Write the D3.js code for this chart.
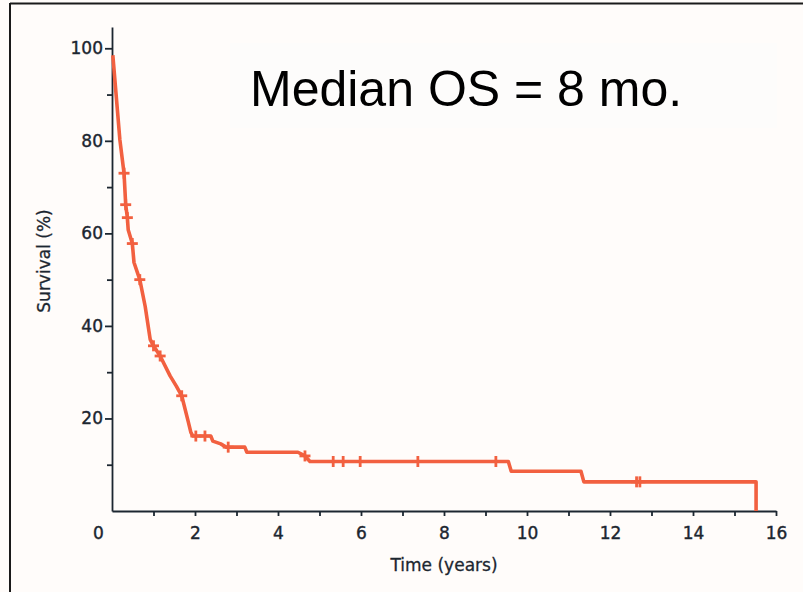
<!DOCTYPE html>
<html>
<head>
<meta charset="utf-8">
<script src="https://cdn.jsdelivr.net/npm/d3@7/dist/d3.min.js"></script>
<style>
    body { margin: 0; background: #fffcfa; }
    svg { display: block; }
</style>
</head>
<body>
<div id="km_chart"></div>
<script>

// ----- data ----- //

// Kaplan-Meier curve vertices (years, survival %)
var km_time = [0.02, 0.19, 0.29, 0.33, 0.37, 0.39, 0.49, 0.53, 0.67, 0.80, 0.92, 1.00, 1.16, 1.40, 1.55, 1.68, 1.84, 1.90, 1.95, 2.38, 2.43, 2.62, 2.75, 3.20, 3.25, 4.48, 4.65, 4.77, 9.55, 9.62, 11.30, 11.37, 15.52, 15.52]
var km_surv = [98.5, 80.2, 73.0, 66.2, 63.4, 60.8, 57.8, 53.7, 50.0, 44.2, 37.1, 35.7, 33.5, 29.2, 27.0, 24.9, 19.2, 17.0, 16.2, 16.2, 15.1, 14.5, 13.8, 13.8, 12.7, 12.7, 11.9, 10.7, 10.7, 8.6, 8.6, 6.3, 6.3, 0]

// censored patients (+ marks)
var censor_time = [0.29, 0.33, 0.37, 0.49, 0.67, 1.00, 1.16, 1.68, 2.02, 2.24, 2.80, 4.65, 5.33, 5.57, 5.98, 7.37, 9.25, 12.64, 12.72]
var censor_surv = [73.0, 66.2, 63.4, 57.8, 50.0, 35.7, 33.5, 24.9, 16.2, 16.2, 13.8, 11.9, 10.7, 10.7, 10.7, 10.7, 10.7, 6.3, 6.3]

var y_ticks_major = [20, 40, 60, 80, 100]
var y_ticks_minor = [10, 30, 50, 70, 90]
var x_ticks = d3.range(0, 17)
var x_title = "Time (years)"
var y_title = "Survival (%)"
var title_text = "Median OS = 8 mo."


// ----- svg, scales and axes ----- //

var svg = d3.select("#km_chart")
    .append("svg")
    .attr("width", 803)
    .attr("height", 592)

svg.append("rect")
    .attr("width", 803)
    .attr("height", 592)
    .attr("fill", "#fffcfa")

// frame lines (top and left)
svg.append("line")
    .attr("x1", 10).attr("x2", 803)
    .attr("y1", 3.5).attr("y2", 3.5)
    .attr("stroke", "#1a1a1a")
    .attr("stroke-width", 2)

svg.append("line")
    .attr("x1", 10).attr("x2", 10)
    .attr("y1", 3).attr("y2", 592)
    .attr("stroke", "#1a1a1a")
    .attr("stroke-width", 2)

var x = d3.scaleLinear()
    .domain([0, 16])
    .range([112, 776])

var y = d3.scaleLinear()
    .domain([0, 104.6])
    .range([511, 27])

var axisFont = "'DejaVu Sans', Arial, sans-serif"
var axisColor = "#1c2630"

// y axis: minor ticks first, then major ticks with labels
var yMinor = svg.append("g")
    .attr("transform", "translate(" + x(0) + ",0)")
    .call(d3.axisLeft(y).tickValues(y_ticks_minor).tickSize(5).tickFormat(""))
yMinor.select(".domain").remove()

var yAxis = svg.append("g")
    .attr("transform", "translate(" + x(0) + ",0)")
    .call(d3.axisLeft(y).tickValues(y_ticks_major).tickSize(7).tickPadding(2).tickSizeOuter(0))

// x axis
var xAxis = svg.append("g")
    .attr("transform", "translate(0," + y(0) + ")")
    .call(d3.axisBottom(x)
        .tickValues(x_ticks)
        .tickSize(5)
        .tickPadding(11)
        .tickSizeOuter(0)
        .tickFormat(function (d) { return d % 2 === 0 ? d : ""; }))

// the "0" label sits left of the corner, no tick there
xAxis.selectAll(".tick")
    .filter(function (d) { return d === 0; })
    .each(function () {
        d3.select(this).select("line").remove()
        d3.select(this).select("text").attr("x", -14)
    })

svg.selectAll(".domain, .tick line")
    .attr("stroke", axisColor)
    .attr("stroke-width", 1.8)

svg.selectAll(".tick text")
    .attr("fill", axisColor)
    .attr("stroke", axisColor)
    .attr("stroke-width", 0.4)
    .style("font-family", axisFont)
    .style("font-size", "17px")

// axis titles
svg.append("text")
    .attr("x", x(8))
    .attr("y", 571)
    .attr("text-anchor", "middle")
    .style("font-family", axisFont)
    .style("font-size", "17px")
    .attr("fill", axisColor)
    .attr("stroke", axisColor)
    .attr("stroke-width", 0.3)
    .text(x_title)

svg.append("text")
    .attr("transform", "translate(50," + 261 + ") rotate(-90)")
    .attr("text-anchor", "middle")
    .style("font-family", axisFont)
    .style("font-size", "17px")
    .attr("fill", axisColor)
    .attr("stroke", axisColor)
    .attr("stroke-width", 0.3)
    .text(y_title)


// ----- title box ----- //

svg.append("rect")
    .attr("x", 230)
    .attr("y", 43)
    .attr("width", 547)
    .attr("height", 85)
    .attr("fill", "#fdfcfb")

svg.append("text")
    .attr("x", 250)
    .attr("y", 106)
    .style("font-family", "'Liberation Sans', Arial, Helvetica, sans-serif")
    .style("font-size", "50px")
    .attr("fill", "#000")
    .text(title_text)


// ----- survival curve ----- //

var curveColor = "#f2603f"

var defs = svg.append("defs")
defs.append("filter")
    .attr("id", "soft")
    .append("feGaussianBlur")
    .attr("stdDeviation", 0.6)

var km_points = km_time.map(function (t, i) { return { t: t, s: km_surv[i] }; })

var line = d3.line()
    .x(function (d) { return x(d.t); })
    .y(function (d) { return y(d.s); })

svg.append("path")
    .datum(km_points)
    .attr("fill", "none")
    .attr("stroke", curveColor)
    .attr("stroke-width", 3.6)
    .attr("stroke-linejoin", "round")
    .attr("filter", "url(#soft)")
    .attr("d", line)

var censor_points = censor_time.map(function (t, i) { return { t: t, s: censor_surv[i] }; })

var marks = svg.selectAll(".censor")
    .data(censor_points)
    .enter()
    .append("g")
    .attr("class", "censor")
    .attr("filter", "url(#soft)")
    .attr("transform", function (d) { return "translate(" + x(d.t) + "," + y(d.s) + ")"; })

marks.append("line")
    .attr("x1", -5.5).attr("x2", 5.5)
    .attr("stroke", curveColor)
    .attr("stroke-width", 2.8)

marks.append("line")
    .attr("y1", -5.5).attr("y2", 5.5)
    .attr("stroke", curveColor)
    .attr("stroke-width", 2.8)

</script>
</body>
</html>
